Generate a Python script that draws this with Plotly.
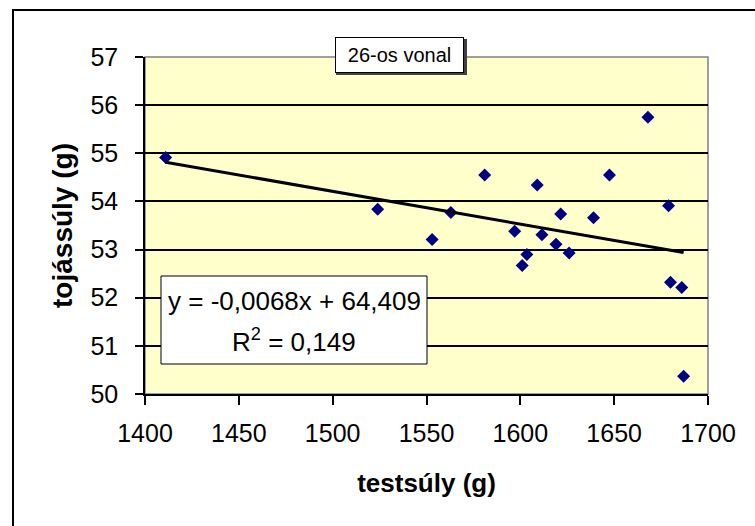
import plotly.graph_objects as go

# ---- data ----
testsuly = [1411, 1524, 1553, 1563, 1581, 1597, 1601, 1603.5, 1609, 1611.5,
            1619, 1621.5, 1626, 1639, 1647.5, 1668, 1679, 1680, 1686, 1687]
tojassuly = [54.91, 53.84, 53.21, 53.77, 54.55, 53.38, 52.67, 52.90, 54.34, 53.31,
             53.11, 53.74, 52.93, 53.66, 54.55, 55.75, 53.91, 52.32, 52.21, 50.37]
slope = -0.0068
intercept = 64.409
r_squared = 0.149
series_label = "26-os vonal"
x_ticks = [1400, 1450, 1500, 1550, 1600, 1650, 1700]
y_ticks = [50, 51, 52, 53, 54, 55, 56, 57]

W, H = 755, 526
ML, MR, MT, MB = 145, 47, 57, 132
PW, PH = W - ML - MR, H - MT - MB


def px(x):
    return (x - ML) / PW


def py(y):
    return (H - MB - y) / PH


FONT = "Liberation Sans, Arial, sans-serif"

trend_x = [min(testsuly), max(testsuly)]
trend_y = [slope * v + intercept for v in trend_x]

fig = go.Figure()
fig.add_trace(go.Scatter(
    x=testsuly, y=tojassuly, mode="markers",
    marker=dict(symbol="diamond", size=10, color="#000080"),
    showlegend=False, cliponaxis=False))
fig.add_trace(go.Scatter(
    x=trend_x, y=trend_y, mode="lines",
    line=dict(color="black", width=3), showlegend=False))

fig.update_layout(
    width=W, height=H,
    margin=dict(l=ML, r=MR, t=MT, b=MB),
    paper_bgcolor="white", plot_bgcolor="#FFFFCC",
    font=dict(family=FONT, color="black"),
    xaxis=dict(range=[1400, 1700], tickvals=x_ticks, ticks="outside", ticklen=9,
               tickcolor="black", tickwidth=1.5, showline=True, linecolor="black",
               linewidth=1.5, showgrid=False, zeroline=False,
               tickfont=dict(size=25, family=FONT), ticklabelstandoff=7,
               title=dict(text="<b>testsúly (g)</b>", font=dict(size=26, family=FONT),
                          standoff=28)),
    yaxis=dict(range=[50, 57], tickvals=y_ticks, ticks="outside", ticklen=8,
               tickcolor="black", tickwidth=1.5, showline=True, linecolor="black",
               linewidth=1.5, showgrid=True, gridcolor="black", gridwidth=1.5,
               zeroline=False, tickfont=dict(size=25, family=FONT), ticklabelstandoff=12,
               title=dict(text="<b>tojássúly (g)</b>", font=dict(size=28, family=FONT),
                          standoff=10)),
)

shapes = [
    # outer chart border
    dict(type="rect", xref="paper", yref="paper", x0=px(13), x1=px(W + 5),
         y0=py(H + 5), y1=py(10), line=dict(color="black", width=2), layer="below"),
    # plot area frame (top/right in grey)
    dict(type="rect", xref="paper", yref="paper", x0=0, x1=1, y0=0, y1=1,
         line=dict(color="#808080", width=1.5), layer="below"),
    # legend shadow
    dict(type="rect", xref="paper", yref="paper", x0=px(336), x1=px(467),
         y0=py(75), y1=py(39), fillcolor="#404040", line=dict(width=0), layer="above"),
    # equation box
    dict(type="rect", xref="paper", yref="paper", x0=px(161), x1=px(427),
         y0=py(364), y1=py(276), fillcolor="white",
         line=dict(color="black", width=1), layer="above"),
]
fig.update_layout(shapes=shapes)

fig.add_annotation(xref="paper", yref="paper", x=px(399.5), y=py(55),
                   text=series_label, showarrow=False, font=dict(size=20, family=FONT),
                   bgcolor="white", bordercolor="black", borderwidth=1, borderpad=5,
                   width=117, height=24, xanchor="center", yanchor="middle")
fig.add_annotation(xref="paper", yref="paper", x=px(294), y=py(301),
                   text=f"y = {slope:.4f}x + {intercept:.3f}".replace(".", ","),
                   showarrow=False, font=dict(size=26, family=FONT),
                   xanchor="center", yanchor="middle")
fig.add_annotation(xref="paper", yref="paper", x=px(294), y=py(340),
                   text=f"R<sup>2</sup> = {r_squared:.3f}".replace(".", ","),
                   showarrow=False, font=dict(size=26, family=FONT),
                   xanchor="center", yanchor="middle")

fig.write_html("out.html")
